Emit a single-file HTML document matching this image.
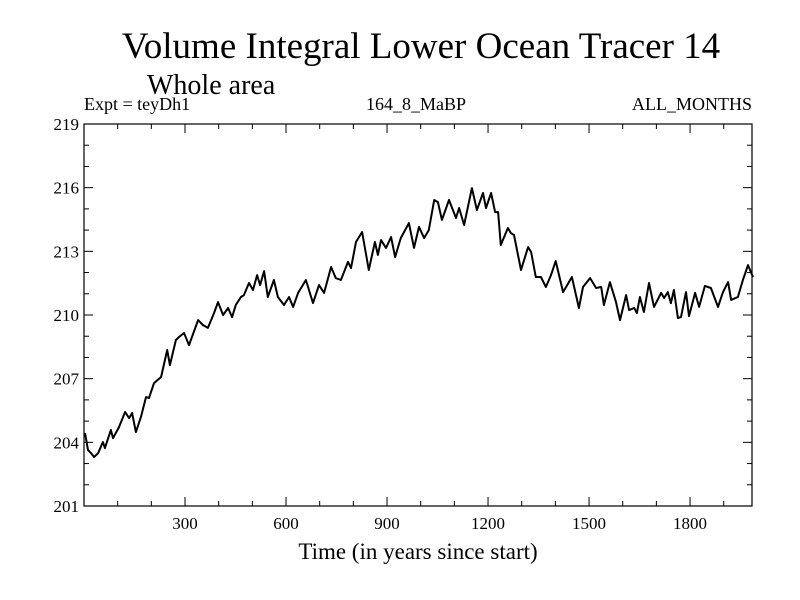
<!DOCTYPE html>
<html><head><meta charset="utf-8"><style>
html,body{margin:0;padding:0;background:#fff;}
svg{display:block;font-family:"Liberation Serif",serif;}
</style></head><body>
<svg id="chart" width="800" height="600" viewBox="0 0 800 600">
<rect width="800" height="600" fill="#fff"/>
<text x="421" y="58" font-size="37" text-anchor="middle">Volume Integral Lower Ocean Tracer 14</text>
<text x="147" y="94" font-size="28">Whole area</text>
<text x="84" y="110" font-size="18">Expt = teyDh1</text>
<text x="416" y="110" font-size="18" text-anchor="middle">164_8_MaBP</text>
<text x="752" y="110" font-size="18" text-anchor="end">ALL_MONTHS</text>
<g id="axes"></g>
<path id="series" fill="none" stroke="#000" stroke-width="2" stroke-linejoin="round"/>
<rect x="84" y="124" width="668" height="382" fill="none" stroke="#000" stroke-width="1.2"/>
<text x="418" y="559" font-size="23" text-anchor="middle">Time (in years since start)</text>
</svg>
<script>
const years = [3,12,21,30,42,56,62,80,86,104,122,134,143,154,169,184,193,208,229,247,255,273,282,297,312,339,353,368,386,398,413,428,440,451,466,475,490,502,514,523,535,546,564,576,594,609,621,636,659,680,698,713,734,748,763,784,793,808,826,846,864,873,882,897,912,924,941,965,980,995,1010,1024,1040,1051,1063,1084,1105,1114,1129,1152,1167,1185,1194,1209,1221,1230,1238,1259,1268,1277,1298,1319,1328,1342,1357,1372,1387,1401,1423,1449,1470,1482,1503,1521,1536,1544,1562,1580,1592,1610,1619,1634,1642,1651,1663,1678,1693,1714,1723,1734,1743,1752,1764,1773,1788,1797,1815,1827,1844,1862,1883,1898,1913,1922,1942,1957,1972,1987];
const values = [204.44,203.64,203.49,203.31,203.49,204.01,203.73,204.58,204.20,204.72,205.43,205.14,205.38,204.48,205.19,206.13,206.09,206.79,207.08,208.35,207.64,208.82,208.96,209.15,208.58,209.76,209.53,209.39,210.09,210.61,210.00,210.33,209.90,210.47,210.85,210.94,211.51,211.18,211.88,211.41,212.07,210.85,211.65,210.85,210.47,210.85,210.38,211.04,211.65,210.56,211.41,211.04,212.26,211.74,211.65,212.50,212.21,213.44,213.91,212.12,213.44,212.83,213.53,213.16,213.67,212.73,213.63,214.33,213.16,214.15,213.63,214.00,215.42,215.32,214.48,215.42,214.57,215.04,214.24,215.98,214.95,215.75,215.04,215.75,214.85,214.85,213.30,214.10,213.86,213.77,212.12,213.20,212.97,211.79,211.79,211.32,211.88,212.54,211.08,211.79,210.33,211.32,211.74,211.27,211.32,210.47,211.55,210.61,209.76,210.94,210.23,210.33,210.09,210.85,210.14,211.51,210.38,211.04,210.80,211.08,210.56,211.18,209.86,209.90,211.08,209.95,211.04,210.38,211.37,211.27,210.38,211.08,211.55,210.71,210.85,211.65,212.35,211.79];
const xTicks = [300,600,900,1200,1500,1800];
const yTicks = [201,204,207,210,213,216,219];
const X0=84,X1=752,Y0=124,Y1=506, XMIN=0, XMAX=1984, YMIN=201, YMAX=219;
const sx = v => X0 + (v - XMIN) / (XMAX - XMIN) * (X1 - X0);
const sy = v => Y1 - (v - YMIN) / (YMAX - YMIN) * (Y1 - Y0);
const NS='http://www.w3.org/2000/svg';
const axes=document.getElementById('axes');
function line(x1,y1,x2,y2,name){
  const l=document.createElementNS(NS,'line');
  l.setAttribute('x1',x1);l.setAttribute('y1',y1);l.setAttribute('x2',x2);l.setAttribute('y2',y2);
  l.setAttribute('stroke','#000');l.setAttribute('stroke-width','1');
  
  
  axes.appendChild(l);
}
function text(x,y,s,anchor,name){
  const t=document.createElementNS(NS,'text');
  t.setAttribute('x',x);t.setAttribute('y',y);t.setAttribute('font-size','17');t.setAttribute('text-anchor',anchor);
  t.textContent=s;
  
  
  axes.appendChild(t);
}
for(let v=100; v<XMAX; v+=100){
  const major = xTicks.includes(v);
  const L = major?9:5, x=sx(v);
  line(x,Y1,x,Y1-L,'x-tick');
  line(x,Y0,x,Y0+L,'x-tick-top');
}
xTicks.forEach(v=>text(sx(v),Y1+23,String(v),'middle','x-tick-label'));
for(let v=YMIN; v<=YMAX; v+=1){
  const major = yTicks.includes(v);
  const L = major?9:5, y=sy(v);
  line(X0,y,X0+L,y,'y-tick');
  line(X1,y,X1-L,y,'y-tick-right');
}
yTicks.forEach(v=>text(X0-5,sy(v)+6,String(v),'end','y-tick-label'));
document.getElementById('series').setAttribute('d', years.map((y,i)=>(i?'L':'M')+sx(y).toFixed(1)+','+sy(values[i]).toFixed(1)).join(''));
</script>
</body></html>
